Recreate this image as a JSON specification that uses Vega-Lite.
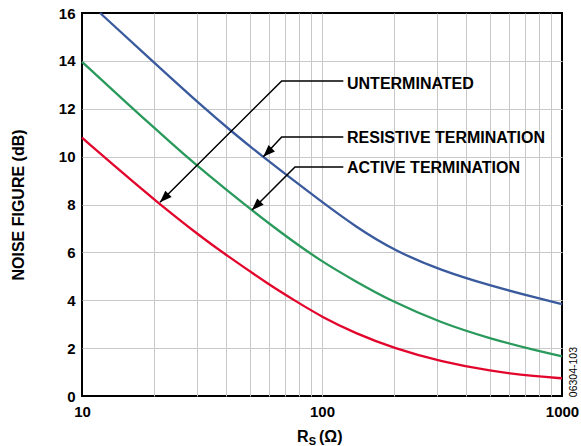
{
  "$schema": "https://vega.github.io/schema/vega-lite/v6.json",
  "width": 480,
  "height": 383,
  "autosize": {"type": "none"},
  "padding": {"left": 82, "top": 13, "right": 19, "bottom": 50},
  "background": "white",
  "config": {
    "font": "Liberation Sans",
    "view": {"stroke": "black", "strokeWidth": 2}
  },
  "layer": [
    {
      "data": {"values": [
        {"curve": "Resistive termination", "rs": 11.9, "nf": 16.0},
        {"curve": "Resistive termination", "rs": 19.6, "nf": 14.0},
        {"curve": "Resistive termination", "rs": 32.5, "nf": 12.0},
        {"curve": "Resistive termination", "rs": 41.7, "nf": 11.08},
        {"curve": "Resistive termination", "rs": 56.8, "nf": 9.98},
        {"curve": "Resistive termination", "rs": 100, "nf": 8.1},
        {"curve": "Resistive termination", "rs": 137.6, "nf": 7.08},
        {"curve": "Resistive termination", "rs": 200, "nf": 6.07},
        {"curve": "Resistive termination", "rs": 316, "nf": 5.235},
        {"curve": "Resistive termination", "rs": 501, "nf": 4.615},
        {"curve": "Resistive termination", "rs": 787, "nf": 4.095},
        {"curve": "Resistive termination", "rs": 1000, "nf": 3.835},
        {"curve": "Active termination", "rs": 10, "nf": 13.96},
        {"curve": "Active termination", "rs": 16.3, "nf": 12.0},
        {"curve": "Active termination", "rs": 20, "nf": 11.2},
        {"curve": "Active termination", "rs": 26.8, "nf": 10.07},
        {"curve": "Active termination", "rs": 33, "nf": 9.3},
        {"curve": "Active termination", "rs": 46.9, "nf": 8.05},
        {"curve": "Active termination", "rs": 66.8, "nf": 6.85},
        {"curve": "Active termination", "rs": 100, "nf": 5.6},
        {"curve": "Active termination", "rs": 137.6, "nf": 4.8},
        {"curve": "Active termination", "rs": 192, "nf": 3.99},
        {"curve": "Active termination", "rs": 316, "nf": 3.04},
        {"curve": "Active termination", "rs": 501, "nf": 2.4},
        {"curve": "Active termination", "rs": 787, "nf": 1.89},
        {"curve": "Active termination", "rs": 1000, "nf": 1.66},
        {"curve": "Unterminated", "rs": 10, "nf": 10.79},
        {"curve": "Unterminated", "rs": 15, "nf": 9.26},
        {"curve": "Unterminated", "rs": 20, "nf": 8.2},
        {"curve": "Unterminated", "rs": 31, "nf": 6.68},
        {"curve": "Unterminated", "rs": 40, "nf": 5.88},
        {"curve": "Unterminated", "rs": 60, "nf": 4.66},
        {"curve": "Unterminated", "rs": 78.4, "nf": 3.94},
        {"curve": "Unterminated", "rs": 100, "nf": 3.3},
        {"curve": "Unterminated", "rs": 137.6, "nf": 2.62},
        {"curve": "Unterminated", "rs": 200, "nf": 1.99},
        {"curve": "Unterminated", "rs": 316, "nf": 1.424},
        {"curve": "Unterminated", "rs": 501, "nf": 1.044},
        {"curve": "Unterminated", "rs": 786, "nf": 0.809},
        {"curve": "Unterminated", "rs": 1000, "nf": 0.741}
      ]},
      "mark": {"type": "line", "strokeWidth": 2.3, "interpolate": "basis"},
      "encoding": {
        "x": {
          "field": "rs", "type": "quantitative",
          "scale": {"type": "log", "domain": [10, 1000], "nice": false},
          "axis": {
            "title": null,
            "values": [10, 20, 30, 40, 50, 60, 70, 80, 90, 100, 200, 300, 400, 500, 600, 700, 800, 900, 1000],
            "labelExpr": "(datum.value == 10 || datum.value == 100 || datum.value == 1000) ? format(datum.value, 'd') : ''",
            "labelOverlap": false,
            "labelFlush": false,
            "labelBound": false,
            "labelFontSize": 15,
            "labelFontWeight": "bold",
            "labelColor": "black",
            "labelPadding": 8,
            "ticks": false,
            "domain": false,
            "grid": true,
            "gridColor": "#c8c8c8",
            "gridWidth": 1,
            "gridOpacity": {"condition": {"test": "datum.value == 10 || datum.value == 1000", "value": 0}, "value": 1}
          }
        },
        "y": {
          "field": "nf", "type": "quantitative",
          "scale": {"domain": [0, 16], "nice": false},
          "axis": {
            "title": "NOISE FIGURE (dB)",
            "titleFontSize": 16,
            "titleFontWeight": "bold",
            "titleColor": "black",
            "titlePadding": 32,
            "values": [0, 2, 4, 6, 8, 10, 12, 14, 16],
            "labelFontSize": 15,
            "labelFontWeight": "bold",
            "labelColor": "black",
            "labelPadding": 7,
            "ticks": false,
            "domain": false,
            "grid": true,
            "gridColor": "#c8c8c8",
            "gridWidth": 1,
            "gridOpacity": {"condition": {"test": "datum.value == 0 || datum.value == 16", "value": 0}, "value": 1}
          }
        },
        "color": {
          "field": "curve", "type": "nominal",
          "scale": {"domain": ["Resistive termination", "Active termination", "Unterminated"], "range": ["#3a5a9e", "#2a9a5c", "#e2062c"]},
          "legend": null
        }
      }
    },
    {
      "data": {"values": [
        {"ann": "UNTERMINATED", "k": 0, "rs": 122.7, "nf": 13.162},
        {"ann": "UNTERMINATED", "k": 1, "rs": 67.92, "nf": 13.162},
        {"ann": "UNTERMINATED", "k": 2, "rs": 21.13, "nf": 8.091},
        {"ann": "RESISTIVE TERMINATION", "k": 0, "rs": 122.7, "nf": 10.819},
        {"ann": "RESISTIVE TERMINATION", "k": 1, "rs": 67.92, "nf": 10.819},
        {"ann": "RESISTIVE TERMINATION", "k": 2, "rs": 56.94, "nf": 9.996},
        {"ann": "ACTIVE TERMINATION", "k": 0, "rs": 122.7, "nf": 9.566},
        {"ann": "ACTIVE TERMINATION", "k": 1, "rs": 77.18, "nf": 9.566},
        {"ann": "ACTIVE TERMINATION", "k": 2, "rs": 51.09, "nf": 7.769}
      ]},
      "mark": {"type": "line", "color": "black", "strokeWidth": 1.5},
      "encoding": {
        "x": {"field": "rs", "type": "quantitative"},
        "y": {"field": "nf", "type": "quantitative"},
        "detail": {"field": "ann"},
        "order": {"field": "k", "type": "quantitative"}
      }
    },
    {
      "data": {"values": [
        {"ann": "UNTERMINATED", "rs": 22.01, "nf": 8.268},
        {"ann": "RESISTIVE TERMINATION", "rs": 59.29, "nf": 10.171},
        {"ann": "ACTIVE TERMINATION", "rs": 53.19, "nf": 7.945}
      ]},
      "mark": {"type": "point", "shape": "M0,-1L0.75,1L-0.75,1Z", "filled": true, "color": "black", "opacity": 1, "size": 144, "angle": 225, "strokeWidth": 0},
      "encoding": {
        "x": {"field": "rs", "type": "quantitative"},
        "y": {"field": "nf", "type": "quantitative"}
      }
    },
    {
      "data": {"values": [
        {"ann": "UNTERMINATED", "rs": 127.1, "nf": 12.81},
        {"ann": "RESISTIVE TERMINATION", "rs": 127.1, "nf": 10.58},
        {"ann": "ACTIVE TERMINATION", "rs": 127.1, "nf": 9.30}
      ]},
      "mark": {"type": "text", "align": "left", "baseline": "alphabetic", "fontSize": 16, "fontWeight": "bold", "color": "black"},
      "encoding": {
        "x": {"field": "rs", "type": "quantitative"},
        "y": {"field": "nf", "type": "quantitative"},
        "text": {"field": "ann"}
      }
    },
    {
      "data": {"values": [{"t": "R"}]},
      "mark": {"type": "text", "align": "left", "baseline": "alphabetic", "fontSize": 16, "fontWeight": "bold", "color": "black"},
      "encoding": {
        "x": {"datum": 78.67},
        "y": {"datum": -1.909},
        "text": {"field": "t"}
      }
    },
    {
      "data": {"values": [{"t": "S"}]},
      "mark": {"type": "text", "align": "left", "baseline": "alphabetic", "fontSize": 11, "fontWeight": "bold", "color": "black"},
      "encoding": {
        "x": {"datum": 88.1},
        "y": {"datum": -2.03},
        "text": {"field": "t"}
      }
    },
    {
      "data": {"values": [{"t": "(Ω)"}]},
      "mark": {"type": "text", "align": "left", "baseline": "alphabetic", "fontSize": 16, "fontWeight": "bold", "color": "black"},
      "encoding": {
        "x": {"datum": 97.2},
        "y": {"datum": -1.909},
        "text": {"field": "t"}
      }
    },
    {
      "data": {"values": [{"t": "06304-103"}]},
      "mark": {"type": "text", "align": "center", "baseline": "middle", "fontSize": 10.5, "angle": 270, "color": "black"},
      "encoding": {
        "x": {"datum": 1117},
        "y": {"datum": 1.0},
        "text": {"field": "t"}
      }
    }
  ]
}
